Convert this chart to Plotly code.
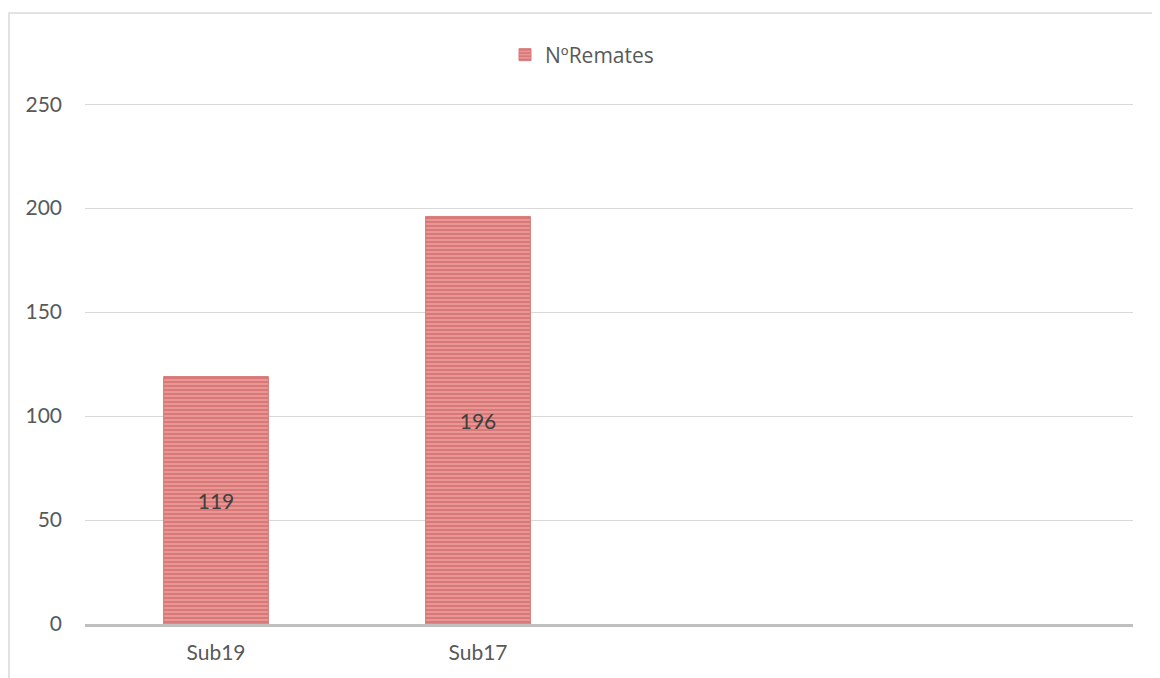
import plotly.graph_objects as go

categories = ["Sub19", "Sub17"]
remates = [119, 196]
series_name = "NºRemates"
y_ticks = [0, 50, 100, 150, 200, 250]

# page body adds an 8px margin, so the figure is laid out 8px smaller/offset
W, H = 1152, 670
L, R, T, B = 77, 27, 92, 54
pw, ph = W - L - R, H - T - B
FONT = "Lato, Open Sans, sans-serif"

fig = go.Figure()
fig.add_trace(go.Bar(
    x=categories, y=remates, name=series_name,
    width=0.4,
    marker=dict(
        color="#EE9A9A",
        line=dict(color="#D77A7A", width=1),
        pattern=dict(shape="-", size=4, solidity=0.65, fgcolor="#C0504D", bgcolor="#F0A2A2"),
    ),
    text=[str(v) for v in remates], textposition="inside", insidetextanchor="middle",
    textfont=dict(color="#404040", size=21, family=FONT),
))

fig.add_shape(type="rect", xref="paper", yref="paper",
              x0=(1 - L) / pw, x1=(1151 - L) / pw,
              y0=-0.3, y1=(H - B - 5) / ph,
              line=dict(color="#D9D9D9", width=1.5), layer="below")

fig.update_layout(
    width=W, height=H,
    margin=dict(l=L, r=R, t=T, b=B),
    paper_bgcolor="white", plot_bgcolor="white",
    font=dict(family=FONT, color="#595959", size=21),
    showlegend=True,
    legend=dict(orientation="h", x=(497 - L) / pw, xanchor="left", y=1 + (T - 47) / ph, yanchor="middle",
                font=dict(size=21, color="#595959", family="Open Sans, Lato, sans-serif"), itemwidth=30,
                bgcolor="rgba(0,0,0,0)"),
    xaxis=dict(type="category", range=[-0.5, 3.5], showgrid=False, showline=True,
               linecolor="#BFBFBF", linewidth=3, ticks="", tickfont=dict(size=21, color="#595959"),
               ticklabelstandoff=8),
    yaxis=dict(range=[0, 252], tickvals=y_ticks, showgrid=True, gridcolor="#D9D9D9", gridwidth=1,
               zeroline=False, showline=False, ticks="", tickfont=dict(size=21, color="#595959"),
               ticklabelstandoff=22),
)

fig.write_html("out.html")
